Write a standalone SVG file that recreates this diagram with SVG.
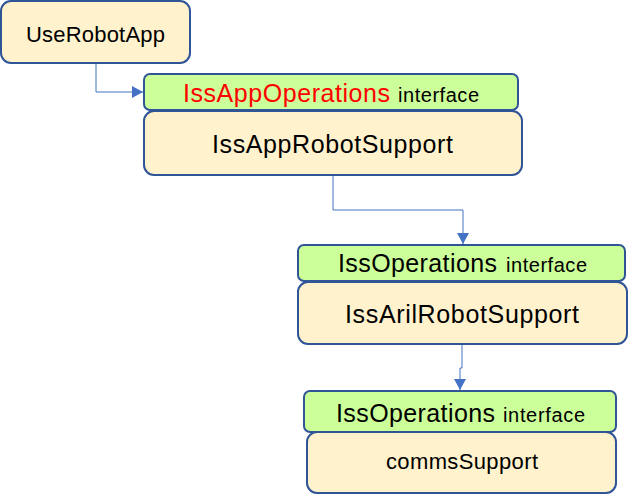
<svg xmlns="http://www.w3.org/2000/svg" width="628" height="495" viewBox="0 0 628 495">
<style>
.body{fill:#FFF2CC;stroke:#2F5597;stroke-width:2}
.head{fill:#CCFF99;stroke:#2F5597;stroke-width:2}
.t{font-family:"Liberation Sans",Arial,sans-serif;fill:#000}
.big{font-size:25px}
.mid{font-size:22px}
.small{font-size:20px}
.red{fill:#FF0000}
.conn{fill:none;stroke:#4472C4;stroke-width:1}
</style>
<defs>
<marker id="arr" markerWidth="13" markerHeight="13" refX="11" refY="6" orient="auto" markerUnits="userSpaceOnUse">
<path d="M0,0 L11,6 L0,12 Z" fill="#4472C4"/>
</marker>
</defs>
<rect width="628" height="495" fill="#fff"/>
<g id="connectors">
<path class="conn" d="M96,63 V92 H143" marker-end="url(#arr)"/>
<path class="conn" d="M333,175 V210 H463 V244" marker-end="url(#arr)"/>
<path class="conn" d="M462,345 V368 H460 V390" marker-end="url(#arr)"/>
</g>
<g id="UseRobotApp">
<rect class="body" x="1" y="1" width="189" height="62" rx="10"/>
<text class="t mid" x="26" y="42" textLength="139">UseRobotApp</text>
</g>
<g id="IssAppRobotSupport">
<rect class="body" x="144" y="111" width="378" height="64" rx="10"/>
<text class="t big" x="212" y="153" textLength="241">IssAppRobotSupport</text>
</g>
<g id="IssAppOperations">
<rect class="head" x="144" y="74" width="374" height="36" rx="6"/>
<text class="t big red" x="183" y="102" textLength="207">IssAppOperations</text>
<text class="t small" x="398" y="102" textLength="81">interface</text>
</g>
<g id="IssArilRobotSupport">
<rect class="body" x="298" y="282" width="329" height="62" rx="10"/>
<text class="t big" x="345" y="323" textLength="234">IssArilRobotSupport</text>
</g>
<g id="IssOperations1">
<rect class="head" x="298" y="245" width="327" height="36" rx="6"/>
<text class="t big" x="338" y="272" textLength="159">IssOperations</text>
<text class="t small" x="506" y="272" textLength="81">interface</text>
</g>
<g id="commsSupport">
<rect class="body" x="307" y="432" width="309" height="61" rx="10"/>
<text class="t mid" x="386" y="469" textLength="152">commsSupport</text>
</g>
<g id="IssOperations2">
<rect class="head" x="304" y="391" width="312" height="41" rx="6"/>
<text class="t big" x="336" y="422" textLength="159">IssOperations</text>
<text class="t small" x="503" y="422" textLength="82">interface</text>
</g>
</svg>
